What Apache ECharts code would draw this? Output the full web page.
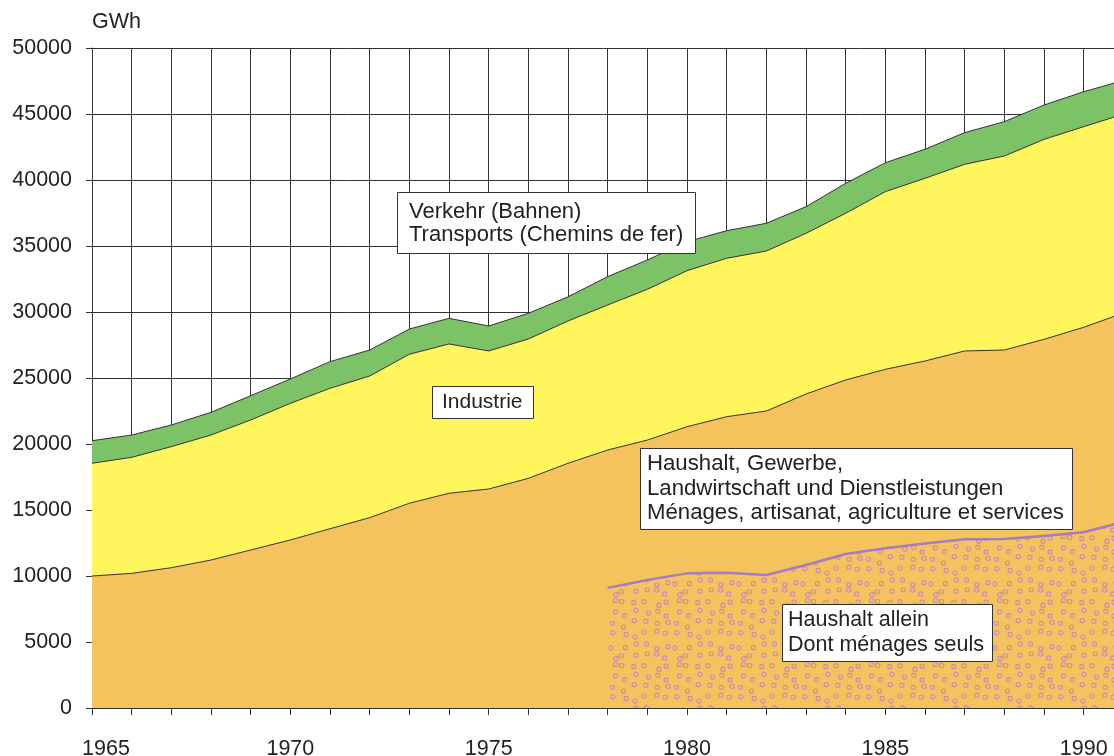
<!DOCTYPE html>
<html>
<head>
<meta charset="utf-8">
<script src="https://cdn.jsdelivr.net/npm/echarts@6/dist/echarts.min.js"></script>
<style>
html,body{margin:0;padding:0;background:#fff;}
#chart{width:1114px;height:756px;}
</style>
</head>
<body>
<div id="chart"></div>
<script>
// ---- data (GWh) ----
const years = [1965,1966,1967,1968,1969,1970,1971,1972,1973,1974,1975,1976,1977,1978,1979,1980,1981,1982,1983,1984,1985,1986,1987,1988,1989,1990,1991];
const services  = [10000,10200,10630,11210,11970,12730,13580,14420,15510,16270,16590,17400,18540,19545,20300,21310,22070,22500,23790,24850,25660,26290,27050,27120,27930,28840,29920];
const industry  = [8540,8790,9170,9470,9850,10350,10640,10730,11290,11310,10460,10555,10780,10985,11420,11820,12000,12120,12170,12630,13460,13840,14140,14700,15150,15200,15070];
const transport = [1710,1690,1640,1720,1840,1845,2020,1970,1910,1940,1890,1945,1830,2150,2220,2200,2090,2100,2020,2270,2190,2200,2400,2600,2600,2650,2550];
const householdYears = [1978,1979,1980,1981,1982,1983,1984,1985,1986,1987,1988,1989,1990,1991];
const household = [9100,9700,10200,10250,10080,10830,11670,12100,12470,12780,12800,13030,13310,14100];
const xLabelYears = [1965,1970,1975,1980,1985,1990];

const FONT = '"Liberation Sans", Arial, Helvetica, sans-serif';
const ORANGE = '#F4C35E', YELLOW = '#FFF65E', GREEN = '#7CC267', LINE = '#333333';

// cumulative (stacked) boundaries
const cumServices = services.slice();
const cumIndustry = services.map((v, i) => v + industry[i]);
const cumTotal = cumIndustry.map((v, i) => v + transport[i]);

// dotted texture for "Haushalt allein"
function makePattern(){
  const c = document.createElement('canvas');
  const S = 64; c.width = S; c.height = S;
  const g = c.getContext('2d');
  g.fillStyle = ORANGE; g.fillRect(0,0,S,S);
  let seed = 12345;
  const rnd = () => { seed = (seed * 1103515245 + 12345) % 2147483648; return seed / 2147483648; };
  g.strokeStyle = '#C98BB6'; g.lineWidth = 1.1;
  for (let r = 0; r < 6; r++) {
    for (let k = 0; k < 6; k++) {
      const x = (k + 0.5) * S / 6 + (rnd() - 0.5) * 7;
      const y = (r + 0.5) * S / 6 + (rnd() - 0.5) * 7;
      for (const dx of [-S,0,S]) for (const dy of [-S,0,S]) {
        g.beginPath(); g.arc(x+dx, y+dy, 2.1, 0, Math.PI*2); g.stroke();
      }
    }
  }
  return c;
}

const pairs = (xs, vs) => xs.map((x, i) => [x, vs[i]]);

const chart = echarts.init(document.getElementById('chart'), null, {renderer: 'canvas'});

const boxStyle = (fs, lh) => ({
  fontSize: fs, fontWeight: 'normal', color: '#222', fontFamily: FONT, lineHeight: lh
});

chart.setOption({
  animation: false,
  backgroundColor: '#fff',
  title: [
    {text: 'GWh', left: 92, top: 11, padding: 0, textStyle: boxStyle(21.5, 22)},
    {text: 'Verkehr (Bahnen)\nTransports (Chemins de fer)', left: 397, top: 192, padding: [8,12,8,12],
     backgroundColor: '#fff', borderColor: LINE, borderWidth: 1, textStyle: boxStyle(22, 23)},
    {text: 'Industrie', left: 432, top: 386, padding: [6,11,6,10],
     backgroundColor: '#fff', borderColor: LINE, borderWidth: 1, textStyle: boxStyle(21, 21)},
    {text: 'Haushalt, Gewerbe,\nLandwirtschaft und Dienstleistungen\nMénages, artisanat, agriculture et services', left: 640, top: 448, padding: [4,9,4,7],
     backgroundColor: '#fff', borderColor: LINE, borderWidth: 1, textStyle: boxStyle(22.2, 24.5)},
    {text: 'Haushalt allein\nDont ménages seuls', left: 782, top: 604, padding: [4,9,4,6],
     backgroundColor: '#fff', borderColor: LINE, borderWidth: 1, textStyle: boxStyle(21.5, 25)}
  ],
  grid: {left: 92, top: 48, right: -9.4, bottom: 48, containLabel: false, outerBoundsMode: 'none'},
  xAxis: {
    type: 'value', min: 1965, max: 1991, interval: 1,
    axisLine: {show: true, lineStyle: {color: LINE, width: 1}},
    axisTick: {show: true, length: 7, lineStyle: {color: LINE}},
    splitLine: {show: true, lineStyle: {color: LINE, width: 1}},
    axisLabel: {
      show: true, margin: 30, color: '#222', fontSize: 21.5, fontFamily: FONT,
      showMinLabel: true, showMaxLabel: false,
      formatter: v => xLabelYears.includes(v) ? (v === 1965 ? '{a|' + v + '}' : String(v)) : '',
      rich: {a: {padding: [0,0,0,28], fontSize: 21.5, fontFamily: FONT, color: '#222'}}
    }
  },
  yAxis: {
    type: 'value', min: 0, max: 50000, interval: 5000,
    axisLine: {show: true, lineStyle: {color: LINE, width: 1}},
    axisTick: {show: true, length: 6, lineStyle: {color: LINE}},
    splitLine: {show: true, lineStyle: {color: LINE, width: 1}},
    axisLabel: {margin: 20, color: '#222', fontSize: 21.5, fontFamily: FONT, formatter: v => String(v)}
  },
  series: [
    {name: 'Verkehr (Bahnen)', type: 'line',
     data: pairs(years, cumTotal), symbol: 'none', lineStyle: {color: LINE, width: 1},
     areaStyle: {color: GREEN, opacity: 1}, z: 2},
    {name: 'Industrie', type: 'line',
     data: pairs(years, cumIndustry), symbol: 'none', lineStyle: {color: LINE, width: 1},
     areaStyle: {color: YELLOW, opacity: 1}, z: 2},
    {name: 'Haushalt, Gewerbe, Landwirtschaft und Dienstleistungen', type: 'line',
     data: pairs(years, cumServices), symbol: 'none', lineStyle: {color: LINE, width: 1},
     areaStyle: {color: ORANGE, opacity: 1}, z: 2},
    {name: 'Haushalt allein', type: 'line',
     data: pairs(householdYears, household), symbol: 'none', lineStyle: {color: '#A67CC0', width: 2.5},
     areaStyle: {color: {image: makePattern(), repeat: 'repeat'}, opacity: 1}, z: 3}
  ]
});
</script>
</body>
</html>
